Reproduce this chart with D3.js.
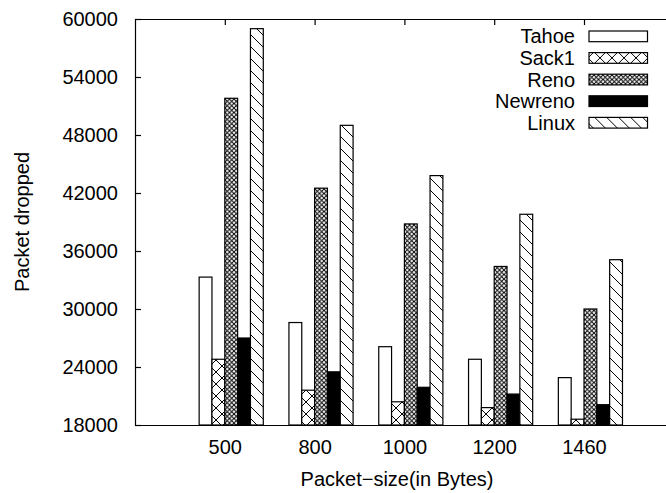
<!DOCTYPE html>
<html>
<head>
<meta charset="utf-8">
<script src="https://cdn.jsdelivr.net/npm/d3@7/dist/d3.min.js"></script>
<style>
  body { margin: 0; background: #fff; }
  svg text { font-family: "Liberation Sans", Arial, sans-serif; fill: #000; }
</style>
</head>
<body>
<svg id="chart" width="666" height="493"></svg>
<script>
// Packet sizes on the x axis.
var categories = ["500", "800", "1000", "1200", "1460"];

// Packets dropped per TCP variant.
var tahoe   = [33300, 28600, 26100, 24800, 22900];
var sack1   = [24800, 21600, 20400, 19800, 18600];
var reno    = [51800, 42500, 38800, 34400, 30000];
var newreno = [27000, 23500, 21900, 21200, 20100];
var linux   = [59000, 49000, 43800, 39800, 35100];

var seriesNames = ["Tahoe", "Sack1", "Reno", "Newreno", "Linux"];
var yTicks = [18000, 24000, 30000, 36000, 42000, 48000, 54000, 60000];

var series = [tahoe, sack1, reno, newreno, linux].map(function(v, i) {
    return { name: seriesNames[i], values: v, fill: "url(#pat" + i + ")" };
});

var svg = d3.select("#chart");

// Plot frame (note: "top" is taken by window.top).
var plotLeft = 135, plotTop = 19, plotBottom = 425;
var x = d3.scaleLinear().domain([-1, 5]).range([plotLeft, plotLeft + 6 * 89.8]);
var y = d3.scaleLinear().domain([18000, 60000]).range([plotBottom, plotTop]);
var gap = 2;
var boxW = 1 / (series.length + gap);

// Fill patterns, gnuplot style.
var defs = svg.append("defs");
function pattern(id, size, d, bg) {
    var p = defs.append("pattern")
        .attr("id", id)
        .attr("patternUnits", "userSpaceOnUse")
        .attr("width", size)
        .attr("height", size);
    p.append("rect").attr("width", size).attr("height", size).attr("fill", bg || "#fff");
    if (d) p.append("path").attr("d", d).attr("stroke", "#000").attr("stroke-width", 1).attr("fill", "none");
}
pattern("pat0", 10, null);
pattern("pat1", 12, "M0,0L12,12M12,0L0,12");
pattern("pat2", 4.5, "M0,0L4.5,4.5M4.5,0L0,4.5");
pattern("pat3", 10, null, "#000");
pattern("pat4", 12, "M0,0L12,12M-3,9L3,15M9,-3L15,3");

// Axes.
var xAxis = d3.axisBottom(x)
    .tickValues(d3.range(categories.length))
    .tickFormat(function(i) { return categories[i]; })
    .tickSizeInner(-6).tickSizeOuter(0).tickPadding(15);

var gx = svg.append("g").attr("transform", "translate(0," + plotBottom + ")").call(xAxis);

var gxTop = svg.append("g").attr("transform", "translate(0," + plotTop + ")")
    .call(d3.axisTop(x).tickValues(d3.range(categories.length)).tickFormat("")
        .tickSizeInner(-6).tickSizeOuter(0));

var gy = svg.append("g").attr("transform", "translate(" + plotLeft + ",0)")
    .call(d3.axisLeft(y).tickValues(yTicks).tickFormat(d3.format("d"))
        .tickSizeInner(-6).tickSizeOuter(0).tickPadding(17));

[gx, gxTop, gy].forEach(function(g) {
    g.selectAll("path, line").attr("stroke", "#000").attr("stroke-width", 1.2);
    g.selectAll("text").style("font-size", "20px").attr("fill", "#000");
});

// Bars.
var groups = svg.append("g").selectAll("g")
    .data(series)
    .enter().append("g")
    .attr("fill", function(s) { return s.fill; });

groups.selectAll("rect")
    .data(function(s, si) { return s.values.map(function(v, ci) { return { v: v, c: ci, s: si }; }); })
    .enter().append("rect")
    .attr("x", function(d) { return x(d.c + (d.s - 2) * boxW); })
    .attr("width", function() { return x(boxW) - x(0); })
    .attr("y", function(d) { return y(d.v); })
    .attr("height", function(d) { return plotBottom - y(d.v); })
    .attr("stroke", "#000")
    .attr("stroke-width", 1.2);

// Legend.
var legend = svg.append("g").selectAll("g")
    .data(series)
    .enter().append("g")
    .attr("transform", function(s, i) { return "translate(0," + (36.3 + i * 21.6) + ")"; });

legend.append("text")
    .attr("x", 575)
    .attr("y", 7)
    .attr("text-anchor", "end")
    .style("font-size", "20px")
    .text(function(s) { return s.name; });

legend.append("rect")
    .attr("x", 589)
    .attr("y", -5.3)
    .attr("width", 58.5)
    .attr("height", 10.7)
    .attr("fill", function(s) { return s.fill; })
    .attr("stroke", "#000")
    .attr("stroke-width", 1.2);

// Axis titles.
svg.append("text")
    .attr("transform", "translate(29,222) rotate(-90)")
    .attr("text-anchor", "middle")
    .style("font-size", "20px")
    .text("Packet dropped");

svg.append("text")
    .attr("x", 397)
    .attr("y", 486)
    .attr("text-anchor", "middle")
    .style("font-size", "20px")
    .text("Packet\u2212size(in Bytes)");
</script>
</body>
</html>
